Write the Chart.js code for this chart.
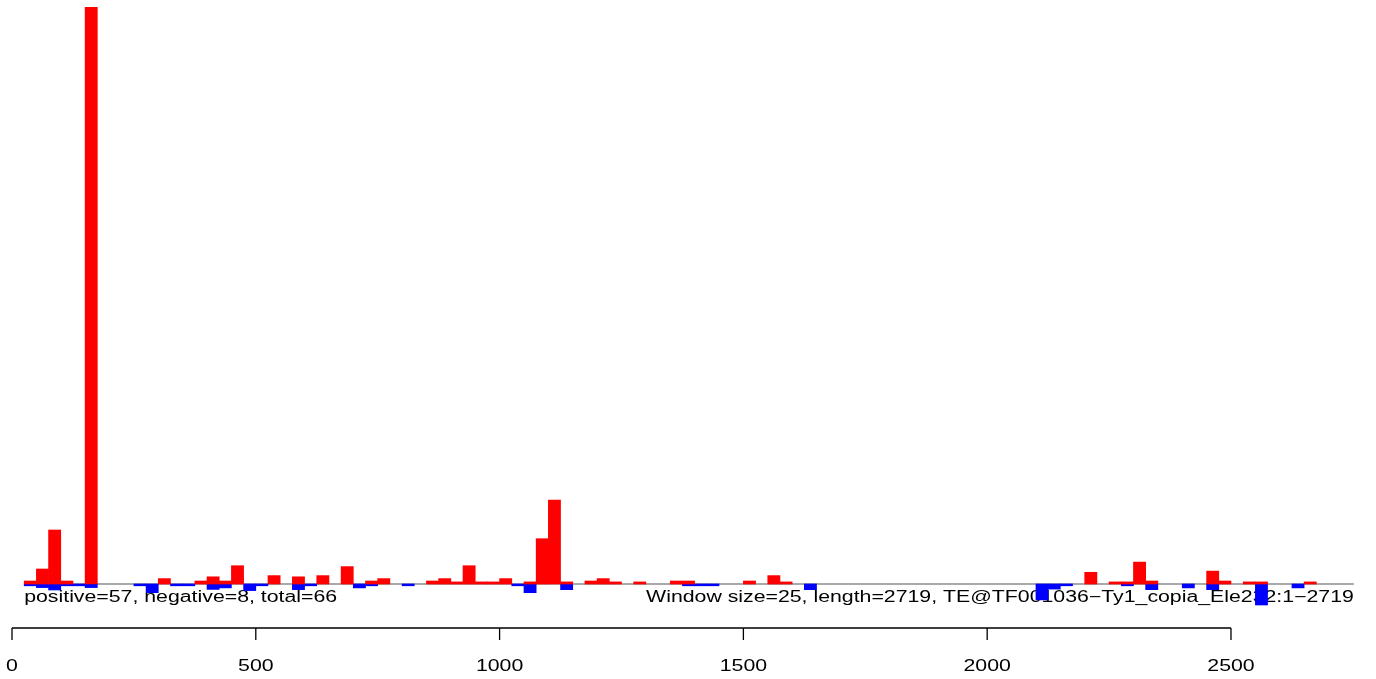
<!DOCTYPE html>
<html>
<head>
<meta charset="utf-8">
<script src="https://cdn.jsdelivr.net/npm/chart.js@4.4.1/dist/chart.umd.min.js"></script>
<style>
  html, body { margin: 0; padding: 0; background: #fff; }
  #wrap { width: 1376px; height: 679px; }
</style>
</head>
<body>
<div id="wrap"><canvas id="myChart"></canvas></div>
<script>
// ================= Data =================
const windowSize = 25;
const posStarts = [25, 50, 75, 100, 150, 300, 375, 400, 425, 450, 525, 575, 625, 675, 725, 750,
  850, 875, 900, 925, 950, 975, 1000, 1050, 1075, 1100, 1125, 1175, 1200, 1225, 1275, 1350, 1375,
  1500, 1550, 1575, 2200, 2250, 2275, 2300, 2325, 2450, 2475, 2525, 2550, 2650];
const posValues = [1, 5, 18, 1, 192.3, 1.8, 1, 2.4, 1, 6.1, 2.8, 2.4, 2.8, 5.8, 1, 1.8,
  1, 1.8, 0.7, 6.1, 0.7, 0.7, 1.8, 0.7, 15.1, 28, 0.7, 1, 1.8, 0.7, 0.7, 1, 1,
  1, 2.8, 0.7, 3.9, 0.7, 0.7, 7.3, 1, 4.3, 1, 0.7, 0.7, 0.7];
const negStarts = [25, 50, 75, 100, 125, 150, 250, 275, 325, 350, 400, 425, 475, 500, 575, 600,
  700, 725, 800, 1025, 1050, 1125, 1375, 1400, 1425, 1625, 2100, 2125, 2150, 2275, 2325, 2400,
  2450, 2550, 2625];
const negValues = [-0.6, -1.2, -2, -0.6, -0.6, -1.2, -0.6, -2.9, -0.6, -0.6, -1.8, -1.3, -2.2, -0.6, -1.9, -0.6,
  -1.3, -0.6, -0.6, -0.6, -2.9, -1.9, -0.6, -0.6, -0.6, -1.9, -5.3, -1.7, -0.6, -0.6, -1.9, -1.3,
  -1.9, -7, -1.3];
const tickValues = [0, 500, 1000, 1500, 2000, 2500];
const leftNote = 'positive=57, negative=8, total=66';
const rightNote = 'Window size=25, length=2719, TE@TF001036\u2212Ty1_copia_Ele232:1\u22122719';

// ================= Layout =================
const xMin = -24.6, xMax = 2797.4;     // visible range of the position axis
const lineFrom = 25, lineTo = 2752;     // extent of the zero line / notes
const yMax = Math.max(...posValues);
const yMin = -yMax * 44 / 577;          // room below zero for the negative strand
const textStretch = 1.33;
const fontSpec = '16px "Liberation Sans", Arial, sans-serif';

function toPoints(starts, values) {
  return starts.map((s, i) => ({ x: s + windowSize / 2, y: values[i] }));
}

function stretchedText(c, str, x, y, align) {
  c.save();
  c.translate(x, y);
  c.scale(textStretch, 1);
  c.textAlign = align;
  c.textBaseline = 'alphabetic';
  c.fillText(str, 0, 0);
  c.restore();
}

// ================= R-style axis + notes =================
const rStylePlugin = {
  id: 'rStyle',
  beforeDatasetsDraw(chart) {
    const c = chart.ctx, xs = chart.scales.x, ys = chart.scales.y;
    const y0 = ys.getPixelForValue(0);
    c.save();
    c.strokeStyle = '#8c8c8c';
    c.lineWidth = 1.5;
    c.beginPath();
    c.moveTo(xs.getPixelForValue(lineFrom), y0);
    c.lineTo(xs.getPixelForValue(lineTo), y0);
    c.stroke();
    c.fillStyle = '#000';
    c.font = fontSpec;
    stretchedText(c, leftNote, xs.getPixelForValue(lineFrom), y0 + 18, 'left');
    stretchedText(c, rightNote, xs.getPixelForValue(lineTo), y0 + 18, 'right');
    c.restore();
  },
  afterDraw(chart) {
    const c = chart.ctx, xs = chart.scales.x;
    const yA = chart.chartArea.bottom;
    c.save();
    c.strokeStyle = '#000';
    c.lineWidth = 1.3;
    c.beginPath();
    c.moveTo(xs.getPixelForValue(tickValues[0]), yA);
    c.lineTo(xs.getPixelForValue(tickValues[tickValues.length - 1]), yA);
    tickValues.forEach(v => {
      const px = xs.getPixelForValue(v);
      c.moveTo(px, yA);
      c.lineTo(px, yA + 12);
    });
    c.stroke();
    c.fillStyle = '#000';
    c.font = fontSpec;
    tickValues.forEach(v => stretchedText(c, String(v), xs.getPixelForValue(v), yA + 43, 'center'));
    c.restore();
  }
};

// ================= Bar Chart =================
const ctx = document.getElementById('myChart');

new Chart(ctx, {
  type: 'bar',
  data: {
    datasets: [{
      label: 'positive',
      data: toPoints(posStarts, posValues),
      backgroundColor: '#ff0000',
      borderWidth: 0,
      grouped: false
    }, {
      label: 'negative',
      data: toPoints(negStarts, negValues),
      backgroundColor: '#0000ff',
      borderWidth: 0,
      grouped: false
    }]
  },
  options: {
    responsive: true,
    maintainAspectRatio: false,
    animation: false,
    layout: { padding: { top: 7, bottom: 51, left: 0, right: 0 } },
    categoryPercentage: 1,
    barPercentage: 1,
    plugins: {
      legend: { display: false },
      tooltip: { enabled: false }
    },
    scales: {
      x: { type: 'linear', min: xMin, max: xMax, offset: false, display: false },
      y: { min: yMin, max: yMax, display: false }
    }
  },
  plugins: [rStylePlugin]
});
</script>
</body>
</html>
